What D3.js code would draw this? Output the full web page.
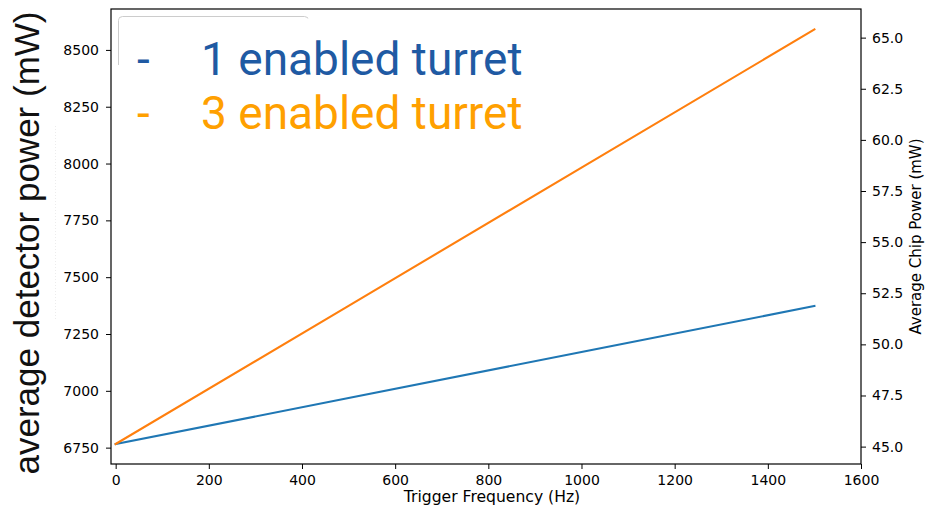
<!DOCTYPE html>
<html>
<head>
<meta charset="utf-8">
<script src="https://cdn.jsdelivr.net/npm/d3@7"></script>
<style>
  html, body { margin: 0; padding: 0; background: #fff; }
  svg { display: block; }
  .tick text { font-family: "DejaVu Sans", sans-serif; font-size: 14px; fill: #000; }
</style>
</head>
<body>
<svg id="chart" width="925" height="509"></svg>
<script>
// Trigger frequency sweep (Hz)
const frequencies = [0, 500, 1000, 1500];
// Average detector power (mW) for each configuration
const oneTurret = [6766, 6968, 7171, 7373];
const threeTurret = [6766, 7374, 7982, 8590];
const seriesNames = ["1 enabled turret", "3 enabled turret"];

// Axis ticks
const xTicks = [0, 200, 400, 600, 800, 1000, 1200, 1400, 1600];
const leftTicks = [6750, 7000, 7250, 7500, 7750, 8000, 8250, 8500];
const rightTicks = [45.0, 47.5, 50.0, 52.5, 55.0, 57.5, 60.0, 62.5, 65.0];

const xLabel = "Trigger Frequency (Hz)";
const leftLabel = "average detector power (mW)";
const rightLabel = "Average Chip Power (mW)";

const plot = { left: 111, right: 861, top: 9, bottom: 464 };

const svg = d3.select("#chart");

const x = d3.scaleLinear().domain([-10, 1600]).range([plot.left, plot.right]);
const yL = d3.scaleLinear().domain([6678, 8680]).range([plot.bottom, plot.top]);
const yR = d3.scaleLinear().domain([44.15, 66.40]).range([plot.bottom, plot.top]);

// faint trace along the left label column
svg.append("line")
  .attr("x1", 55.5).attr("x2", 55.5).attr("y1", 126).attr("y2", 320)
  .attr("stroke", "#ececec").attr("stroke-width", 1).attr("stroke-dasharray", "1,2");

// Lines
const line = d3.line()
  .x((d, i) => x(frequencies[i]))
  .y(d => yL(d));

svg.append("path").datum(oneTurret)
  .attr("d", line).attr("fill", "none")
  .attr("stroke", "#1f77b4").attr("stroke-width", 2.1)
  .attr("stroke-linecap", "square");
svg.append("path").datum(threeTurret)
  .attr("d", line).attr("fill", "none")
  .attr("stroke", "#ff7f0e").attr("stroke-width", 2.1)
  .attr("stroke-linecap", "square");

// Axes
const styleAxis = g => {
  g.select(".domain").remove();
  g.selectAll(".tick line").attr("stroke", "#000").attr("stroke-width", 1);
};

svg.append("g")
  .attr("transform", `translate(0,${plot.bottom})`)
  .call(d3.axisBottom(x).tickValues(xTicks).tickSize(5).tickPadding(6).tickFormat(d3.format("d")))
  .call(styleAxis);

svg.append("g")
  .attr("transform", `translate(${plot.left},0)`)
  .call(d3.axisLeft(yL).tickValues(leftTicks).tickSize(5).tickPadding(7).tickFormat(d3.format("d")))
  .call(styleAxis);

svg.append("g")
  .attr("transform", `translate(${plot.right},0)`)
  .call(d3.axisRight(yR).tickValues(rightTicks).tickSize(5).tickPadding(6).tickFormat(d3.format(".1f")))
  .call(styleAxis);

// Frame
svg.append("rect")
  .attr("x", plot.left).attr("y", plot.top)
  .attr("width", plot.right - plot.left).attr("height", plot.bottom - plot.top)
  .attr("fill", "none").attr("stroke", "#000").attr("stroke-width", 1.2);

// Axis labels
svg.append("text")
  .attr("x", 492).attr("y", 502)
  .attr("text-anchor", "middle")
  .attr("font-family", "DejaVu Sans, sans-serif").attr("font-size", 15.6)
  .text(xLabel);

svg.append("text")
  .attr("transform", `translate(921,${(plot.top + plot.bottom) / 2}) rotate(-90)`)
  .attr("text-anchor", "middle")
  .attr("font-family", "DejaVu Sans, sans-serif").attr("font-size", 15)
  .text(rightLabel);

svg.append("text")
  .attr("transform", "translate(39,243) rotate(-90)")
  .attr("text-anchor", "middle")
  .attr("font-family", "Liberation Sans, Arial, sans-serif").attr("font-size", 35)
  .attr("fill", "#111")
  .text(leftLabel);

// Legend frame
svg.append("rect")
  .attr("x", 118.5).attr("y", 16.5).attr("width", 190).attr("height", 90)
  .attr("rx", 4).attr("fill", "#fff").attr("stroke", "#cccccc").attr("stroke-width", 1);

// Legend text panel
svg.append("rect").attr("x", 119.5).attr("y", 18.5).attr("width", 420).attr("height", 47).attr("fill", "#fff");
svg.append("rect").attr("x", 113).attr("y", 65).attr("width", 427).attr("height", 75).attr("fill", "#fff");

const legendColors = ["#1f5aa3", "#ffa000"];
const legendBase = [75, 129];
seriesNames.forEach((name, i) => {
  svg.append("text")
    .attr("x", 137).attr("y", legendBase[i])
    .attr("font-family", "Roboto, sans-serif").attr("font-size", 46)
    .attr("fill", legendColors[i])
    .text("-");
  svg.append("text")
    .attr("x", 201).attr("y", legendBase[i])
    .attr("font-family", "Roboto, sans-serif").attr("font-size", 46)
    .attr("fill", legendColors[i])
    .text(name);
});
</script>
</body>
</html>
